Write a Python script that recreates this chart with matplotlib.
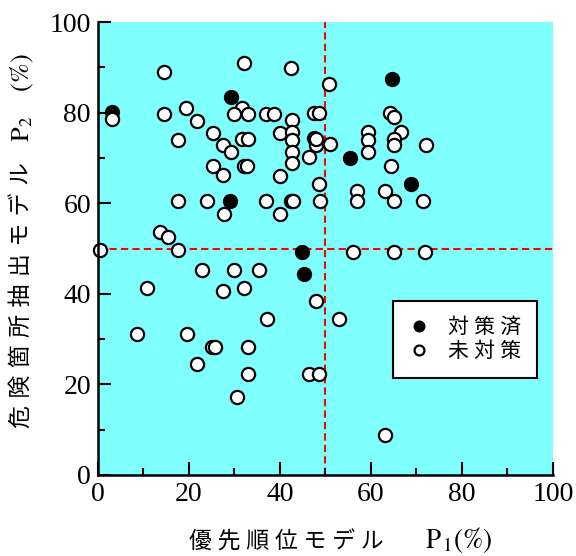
import matplotlib
matplotlib.use("Agg")
import matplotlib.pyplot as plt
from matplotlib.ticker import MultipleLocator

plt.rcParams["font.family"] = ["Liberation Serif", "DejaVu Serif"]
plt.rcParams["mathtext.fontset"] = "stix"

# 対策済 (filled)
done_x = [3.0, 29.2, 29.1, 44.9, 45.2, 55.5, 64.6, 68.7, 47.4]
done_y = [80.2, 83.4, 60.6, 49.3, 44.3, 70.1, 87.4, 64.2, 74.4]

# 未対策 (open)
todo_x = [0.4, 3.0, 14.5, 14.5, 19.3, 21.7, 17.7, 25.3, 27.4, 29.2,
          32.0, 31.6, 30.0, 32.9, 31.6, 33.0, 25.3, 27.4, 32.0, 32.7,
          17.7, 24.0, 27.6, 13.6, 15.5, 17.6, 36.9, 38.7, 40.0, 42.6,
          42.6, 42.6, 42.6, 42.6, 46.4, 42.4, 40.0, 37.0, 40.0, 42.4,
          42.8, 48.7, 48.6, 47.4, 48.6, 47.9, 48.0, 50.7, 51.0, 59.4,
          59.4, 59.4, 64.2, 65.1, 66.7, 65.1, 65.1, 72.1, 64.4, 56.9,
          56.9, 63.1, 65.1, 71.5, 22.9, 29.9, 35.4, 10.8, 27.5, 32.2,
          47.9, 37.1, 8.5, 19.5, 25.0, 25.7, 33.0, 21.7, 32.9, 46.4,
          48.6, 30.6, 56.1, 65.1, 71.9, 53.0, 63.1]
todo_y = [49.6, 78.7, 88.9, 79.8, 81.1, 78.2, 74.0, 75.6, 72.8, 71.4,
          91.0, 81.1, 79.8, 79.8, 74.1, 74.1, 68.3, 66.2, 68.3, 68.3,
          60.6, 60.6, 57.6, 53.7, 52.6, 49.7, 79.8, 79.8, 75.6, 78.4,
          75.8, 74.0, 71.4, 68.9, 70.2, 89.8, 66.1, 60.6, 57.6, 60.6,
          60.6, 60.6, 64.3, 80.0, 80.0, 72.8, 74.3, 86.4, 73.1, 75.8,
          74.0, 71.4, 80.0, 79.0, 75.8, 74.1, 72.8, 72.8, 68.2, 62.8,
          60.6, 62.8, 60.6, 60.6, 45.3, 45.3, 45.3, 41.2, 40.6, 41.2,
          38.4, 34.4, 31.1, 31.1, 28.3, 28.3, 28.3, 24.5, 22.2, 22.2,
          22.2, 17.2, 49.2, 49.2, 49.2, 34.4, 8.8]

p1_split = 50
p2_split = 50

cjk = ["Noto Sans CJK JP", "DejaVu Sans"]

fig = plt.figure(figsize=(5.76, 5.56), dpi=100)
ax = fig.add_axes([0.170, 0.146, 0.790, 0.814])
ax.set_facecolor("#80ffff")

ax.axvline(p1_split, color="red", lw=1.5, ls=(0, (3.5, 2)), zorder=1)
ax.axhline(p2_split, color="red", lw=1.5, ls=(0, (3.5, 2)), zorder=1)

ax.plot(done_x, done_y, "o", ms=9.5, mfc="black", mec="black", mew=1.5,
        clip_on=False, zorder=3, label="\u2005".join("対策済"))
ax.plot(todo_x, todo_y, "o", ms=9.5, mfc="white", mec="black", mew=1.6,
        clip_on=False, zorder=4, label="\u2005".join("未対策"))

ax.set_xlim(0, 100)
ax.set_ylim(0, 100)
ax.xaxis.set_major_locator(MultipleLocator(20))
ax.xaxis.set_minor_locator(MultipleLocator(10))
ax.yaxis.set_major_locator(MultipleLocator(20))
ax.yaxis.set_minor_locator(MultipleLocator(10))
ax.tick_params(which="both", direction="in", width=1.5, labelsize=20, pad=5)
ax.tick_params(which="major", length=9.5)
ax.tick_params(which="minor", length=5)
for s in ["top", "right"]:
    ax.spines[s].set_visible(False)
for s in ["left", "bottom"]:
    ax.spines[s].set_linewidth(1.8)
    ax.spines[s].set_zorder(5)

# axis labels: Japanese part and the P part as separate texts
ax.text(0.413, -0.148, "\u2005".join("優先順位モデル"), transform=ax.transAxes,
        family=cjk, fontsize=16.5, ha="center", va="center")
ax.text(0.792, -0.143, r"$\mathrm{P}_{\,1}(\%)$", transform=ax.transAxes,
        fontsize=19.5, ha="center", va="center")
ax.text(-0.167, 0.397, "\u2004".join("危険箇所抽出モデル"), transform=ax.transAxes,
        family=cjk, fontsize=16.5, ha="center", va="center", rotation=90)
ax.text(-0.165, 0.833, r"$\mathrm{P}_2\ \ \ \ (\%)$", transform=ax.transAxes,
        fontsize=19, ha="center", va="center", rotation=90)

leg = ax.legend(loc="lower left", bbox_to_anchor=(0.648, 0.214), borderaxespad=0,
                prop={"family": cjk, "size": 15}, frameon=True, fancybox=False,
                edgecolor="black", framealpha=1, handlelength=1.0,
                handletextpad=0.9, labelspacing=0.1, borderpad=0.75,
                markerscale=0.75)
leg.get_frame().set_linewidth(1.5)
leg.set_zorder(6)

fig.savefig("out.png", dpi=100)
